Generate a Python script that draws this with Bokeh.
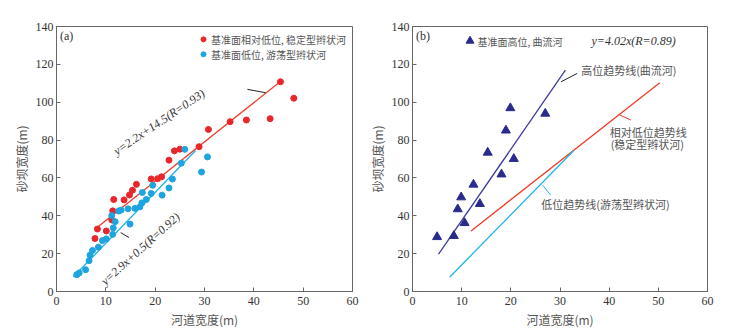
from bokeh.plotting import figure
from bokeh.layouts import row
from bokeh.models import Range1d, FixedTicker, Label
from bokeh.embed import file_html
from bokeh.resources import INLINE

# ---------------- data ----------------
x_ticks = [0, 10, 20, 30, 40, 50, 60]
y_ticks = [0, 20, 40, 60, 80, 100, 120, 140]

# (a) 基准面相对低位, 稳定型辫状河
red_x = [7.8, 8.3, 10.1, 11.2, 11.4, 11.6, 13.7, 14.8, 15.4, 16.2, 19.2, 20.5, 21.3,
         22.8, 23.9, 25.0, 28.9, 30.8, 35.2, 38.5, 43.3, 45.4, 48.1]
red_y = [28.0, 33.0, 32.0, 37.8, 42.6, 48.6, 48.4, 51.0, 53.5, 56.6, 59.5, 59.6, 60.6,
         69.4, 74.3, 75.2, 76.5, 85.6, 89.7, 90.6, 91.3, 110.8, 102.1]
# (a) 基准面低位, 游荡型辫状河
blue_x = [4.1, 4.6, 5.9, 6.6, 6.8, 7.3, 8.5, 9.3, 10.1, 11.4, 11.5, 11.9, 11.2, 12.6,
          13.1, 14.5, 14.9, 15.9, 16.9, 17.3, 17.4, 18.2, 19.2, 19.5, 21.4, 22.8,
          23.5, 25.3, 26.0, 29.4, 30.6]
blue_y = [8.9, 9.8, 11.5, 16.3, 19.2, 21.7, 23.4, 26.9, 27.8, 30.2, 33.6, 36.9, 40.1,
          42.5, 43.0, 43.7, 35.6, 43.9, 44.7, 46.8, 52.3, 48.6, 51.8, 56.1, 50.9,
          54.7, 59.4, 67.8, 75.1, 63.1, 71.1]
# trend lines (a)
red_line_x = [8.1, 45.4]
red_line_y = [33.5, 111.0]
blue_line_x = [3.4, 28.2]
blue_line_y = [7.7, 74.5]

# (b) 基准面高位, 曲流河
tri_x = [5.0, 8.4, 9.2, 9.9, 10.6, 12.4, 13.7, 15.3, 18.1, 19.0, 19.9, 20.6, 27.0]
tri_y = [28.8, 29.4, 43.5, 49.8, 36.2, 56.5, 46.3, 73.4, 61.9, 85.1, 96.9, 70.1, 94.0]
# trend lines (b)
high_line_x = [5.3, 31.1]
high_line_y = [19.8, 116.9]
mid_line_x = [11.9, 50.3]
mid_line_y = [32.0, 110.3]
low_line_x = [7.6, 32.8]
low_line_y = [7.7, 74.5]

# ---------------- styles ----------------
RED = "#e8262b"
BLUE = "#1ea4df"
NAVY = "#2a2a8c"
NAVY_LINE = "#3c3c9e"
RED_LINE = "#f03c2c"
CYAN_LINE = "#1bb4ea"
CJK = "Noto Sans CJK SC"
SERIF = "Liberation Serif"
TXT = "#555555"


def make_fig(ml, mr, fw):
    p = figure(frame_width=fw, frame_height=265, output_backend="svg",
               toolbar_location=None, x_range=Range1d(0, 60), y_range=Range1d(0, 140),
               min_border_left=ml, min_border_right=mr, min_border_top=26,
               min_border_bottom=37)
    p.xgrid.visible = False
    p.ygrid.visible = False
    p.outline_line_color = "#666666"
    p.outline_line_width = 1
    p.background_fill_color = "white"
    for ax, ticks in ((p.xaxis, x_ticks), (p.yaxis, y_ticks)):
        ax.ticker = FixedTicker(ticks=ticks)
        ax.major_tick_in = 4
        ax.major_tick_out = 0
        ax.minor_tick_line_color = None
        ax.axis_line_color = "#666666"
        ax.major_tick_line_color = "#666666"
        ax.major_label_text_font = SERIF
        ax.major_label_text_font_size = "12px"
        ax.major_label_text_color = "#333333"
        ax.axis_label_text_font = CJK
        ax.axis_label_text_font_size = "12px"
        ax.axis_label_text_font_style = "normal"
        ax.axis_label_text_color = TXT
    p.xaxis.axis_label = "河道宽度(m)"
    p.yaxis.axis_label = "砂坝宽度(m)"
    p.xaxis.major_label_standoff = 5
    p.xaxis.axis_label_standoff = 3
    p.yaxis.major_label_standoff = 3
    p.yaxis.axis_label_standoff = 3
    return p


def add_label(p, x, y, text, font=CJK, size="11px", color=TXT, angle=0.0,
              align="left", baseline="middle", style="normal"):
    p.add_layout(Label(x=x, y=y, text=text, text_font=font, text_font_size=size,
                       text_color=color, angle=angle, angle_units="deg",
                       text_align=align, text_baseline=baseline,
                       text_font_style=style))


# ---------------- (a) ----------------
p1 = make_fig(56, 13, 296)
p1.line(red_line_x, red_line_y, line_color=RED_LINE, line_width=1.3)
p1.line(blue_line_x, blue_line_y, line_color=CYAN_LINE, line_width=1.3)
p1.scatter(red_x, red_y, size=6, color=RED, line_color=RED)
p1.scatter(blue_x, blue_y, size=6, color=BLUE, line_color=BLUE)
# legend
p1.scatter([29.8], [133.2], size=5, color=RED)
p1.scatter([29.8], [125.3], size=5, color=BLUE)
add_label(p1, 31.3, 133.2, "基准面相对低位, 稳定型辫状河", size="10px")
add_label(p1, 31.3, 125.3, "基准面低位, 游荡型辫状河", size="10px")
add_label(p1, 0.7, 134.8, "(a)", font=SERIF, size="12px", color="#333333")
# equations
add_label(p1, 20.8, 89.5, "y=2.2x+14.5(R=0.93)", font=SERIF, size="12px",
          color="#333333", angle=34, align="center", style="italic")
add_label(p1, 17.0, 22.5, "y=2.9x+0.5(R=0.92)", font=SERIF, size="12px",
          color="#333333", angle=42, align="center", style="italic")
p1.line([38.7, 42.4], [106.8, 105.0], line_color="#222222", line_width=1)
p1.line([13.0, 14.7], [31.1, 28.5], line_color="#222222", line_width=1)

# ---------------- (b) ----------------
p2 = make_fig(46, 22, 295)
p2.line(high_line_x, high_line_y, line_color=NAVY_LINE, line_width=1.3)
p2.line(mid_line_x, mid_line_y, line_color=RED_LINE, line_width=1.3)
p2.line(low_line_x, low_line_y, line_color=CYAN_LINE, line_width=1.3)
p2.scatter(tri_x, tri_y, marker="triangle", size=9, color=NAVY, line_color=NAVY)
p2.scatter([11.7], [132.4], marker="triangle", size=8, color=NAVY)
add_label(p2, 13.2, 132.1, "基准面高位, 曲流河", size="10px")
add_label(p2, 0.7, 134.8, "(b)", font=SERIF, size="12px", color="#333333")
add_label(p2, 36.4, 132.1, "y=4.02x(R=0.89)", font=SERIF, size="12px",
          color="#333333", style="italic")
add_label(p2, 34.3, 116.8, "高位趋势线(曲流河)")
add_label(p2, 40.1, 84.1, "相对低位趋势线")
add_label(p2, 40.3, 78.0, "(稳定型辫状河)")
add_label(p2, 26.2, 46.1, "低位趋势线(游荡型辫状河)")
p2.line([30.2, 33.5], [110.8, 115.2], line_color="#222222", line_width=1)
p2.line([42.1, 44.4], [93.3, 90.6], line_color=RED_LINE, line_width=1)
p2.line([26.5, 28.1], [56.1, 50.9], line_color=CYAN_LINE, line_width=1)

layout = row(p1, p2)
open("out.html", "w").write(file_html(layout, INLINE))
